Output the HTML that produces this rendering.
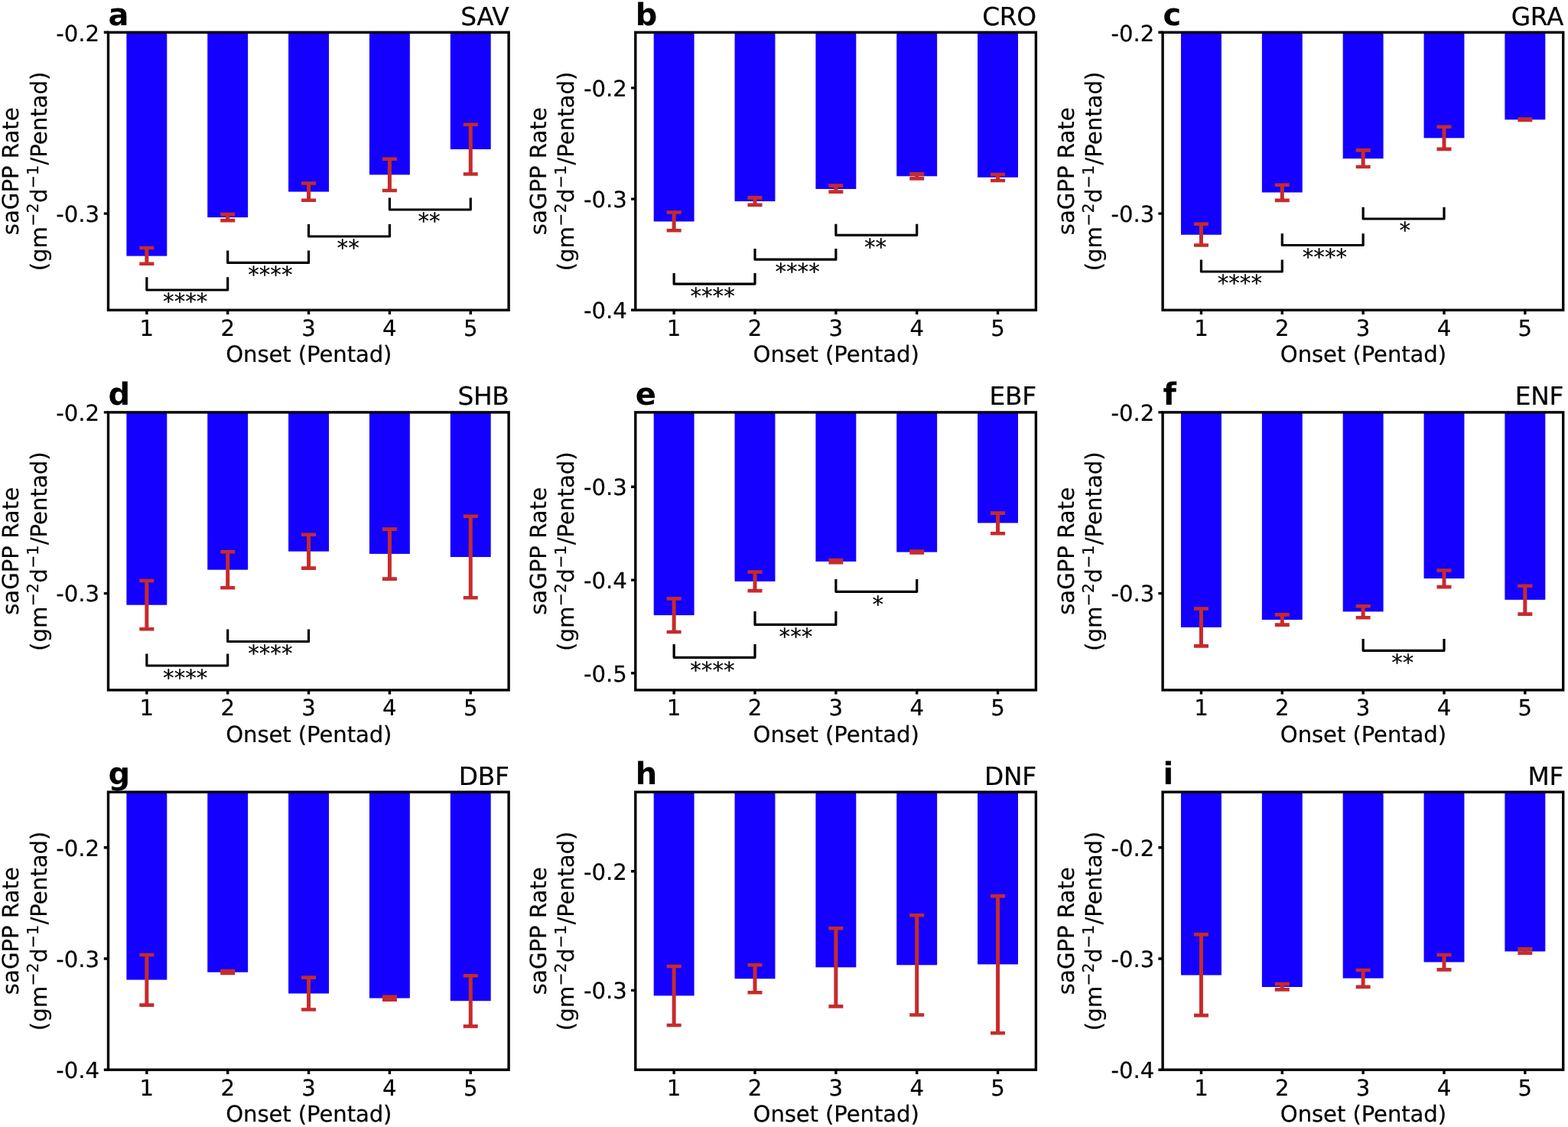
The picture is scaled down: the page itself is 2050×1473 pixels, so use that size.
<!DOCTYPE html>
<html lang="en"><head><meta charset="utf-8"><title>saGPP Rate by Onset (Pentad)</title>
<style>
html,body{margin:0;padding:0;background:#fff;}
body{width:2050px;height:1473px;overflow:hidden;}
svg{display:block;}
text{font-family:"DejaVu Sans","Liberation Sans",sans-serif;fill:#000;stroke:#000;stroke-width:0.2px;stroke-linejoin:round;text-rendering:geometricPrecision;}
.t{font-size:29.17px;}
.b{font-size:40px;font-weight:bold;stroke:none;}
.ti{font-size:32.8px;letter-spacing:-0.3px;}
.bar{fill:#1400ff;}
.e{stroke:#c62b2b;stroke-width:5;fill:none;}
.c{stroke:#c62b2b;stroke-width:4.6;fill:none;}
.k{stroke:#000;stroke-width:3.4;fill:none;}
.br{stroke:#000;stroke-width:3.2;fill:none;stroke-linejoin:round;}
</style></head><body>
<svg width="2050" height="1473" viewBox="0 0 2050 1473">
<rect width="2050" height="1473" fill="#fff"/>
<g id="panel-a">
<rect class="bar" x="165.4" y="42.3" width="52.9" height="292.3"/>
<rect class="bar" x="271.25" y="42.3" width="52.9" height="241.8"/>
<rect class="bar" x="377.1" y="42.3" width="52.9" height="208.3"/>
<rect class="bar" x="482.95" y="42.3" width="52.9" height="186.1"/>
<rect class="bar" x="588.8" y="42.3" width="52.9" height="152.8"/>
<path class="e" d="M191.85 324V344.8"/>
<path class="c" d="M182.35 324H201.35M182.35 344.8H201.35"/>
<path class="e" d="M297.7 280.1V288.1"/>
<path class="c" d="M288.2 280.1H307.2M288.2 288.1H307.2"/>
<path class="e" d="M403.55 239.5V261.7"/>
<path class="c" d="M394.05 239.5H413.05M394.05 261.7H413.05"/>
<path class="e" d="M509.4 207.7V249"/>
<path class="c" d="M499.9 207.7H518.9M499.9 249H518.9"/>
<path class="e" d="M615.25 162.8V227.5"/>
<path class="c" d="M605.75 162.8H624.75M605.75 227.5H624.75"/>
<path class="br" d="M191.85 362.3V379H297.7V362.3"/>
<text class="t" x="242.27" y="404.4" text-anchor="middle">****</text>
<path class="br" d="M297.7 327.6V343.4H403.55V327.6"/>
<text class="t" x="353.32" y="368.8" text-anchor="middle">****</text>
<path class="br" d="M403.55 293V309H509.4V293"/>
<text class="t" x="455.17" y="334.4" text-anchor="middle">**</text>
<path class="br" d="M509.4 258.4V274H615.25V258.4"/>
<text class="t" x="561.03" y="299.4" text-anchor="middle">**</text>
<rect class="k" x="141.5" y="42.3" width="523.6" height="363"/>
<path class="k" d="M191.85 405.3v5.7M297.7 405.3v5.7M403.55 405.3v5.7M509.4 405.3v5.7M615.25 405.3v5.7M141.5 42.3h-5.7M141.5 279.15h-5.7"/>
<text class="t" x="191.85" y="438.6" text-anchor="middle">1</text>
<text class="t" x="297.7" y="438.6" text-anchor="middle">2</text>
<text class="t" x="403.55" y="438.6" text-anchor="middle">3</text>
<text class="t" x="509.4" y="438.6" text-anchor="middle">4</text>
<text class="t" x="615.25" y="438.6" text-anchor="middle">5</text>
<text class="t" x="130.1" y="53.7" text-anchor="end">-0.2</text>
<text class="t" x="130.1" y="289.95" text-anchor="end">-0.3</text>
<text class="t" x="403.8" y="472.9" text-anchor="middle" letter-spacing="-0.12">Onset (Pentad)</text>
<text class="t" transform="translate(23.9 223.8) rotate(-90)" text-anchor="middle">saGPP Rate</text>
<text class="t" transform="translate(60.5 224) rotate(-90)" text-anchor="middle">(gm<tspan font-size="20.5px" dy="-10.5" dx="0.3">−2</tspan><tspan dy="10.5" dx="0.4">d</tspan><tspan font-size="20.5px" dy="-10.5" dx="0.3">−1</tspan><tspan dy="10.5" dx="0.4">/Pentad)</tspan></text>
<text class="b" x="141.5" y="32.7">a</text>
<text class="ti" x="665.5" y="33" text-anchor="end">SAV</text>
</g>
<g id="panel-b">
<rect class="bar" x="854.7" y="42.3" width="52.9" height="247.2"/>
<rect class="bar" x="960.55" y="42.3" width="52.9" height="220.8"/>
<rect class="bar" x="1066.4" y="42.3" width="52.9" height="204.7"/>
<rect class="bar" x="1172.25" y="42.3" width="52.9" height="188"/>
<rect class="bar" x="1278.1" y="42.3" width="52.9" height="189.5"/>
<path class="e" d="M881.15 277.5V301.3"/>
<path class="c" d="M871.65 277.5H890.65M871.65 301.3H890.65"/>
<path class="e" d="M987 258.4V267.9"/>
<path class="c" d="M977.5 258.4H996.5M977.5 267.9H996.5"/>
<path class="e" d="M1092.85 242.6V250.6"/>
<path class="c" d="M1083.35 242.6H1102.35M1083.35 250.6H1102.35"/>
<path class="e" d="M1198.7 227.4V233.4"/>
<path class="c" d="M1189.2 227.4H1208.2M1189.2 233.4H1208.2"/>
<path class="e" d="M1304.55 228V236"/>
<path class="c" d="M1295.05 228H1314.05M1295.05 236H1314.05"/>
<path class="br" d="M881.15 357.1V371.1H987V357.1"/>
<text class="t" x="931.58" y="396.5" text-anchor="middle">****</text>
<path class="br" d="M987 324.9V339.2H1092.85V324.9"/>
<text class="t" x="1042.62" y="364.6" text-anchor="middle">****</text>
<path class="br" d="M1092.85 292.7V307.3H1198.7V292.7"/>
<text class="t" x="1144.47" y="332.7" text-anchor="middle">**</text>
<rect class="k" x="830.8" y="42.3" width="523.6" height="363"/>
<path class="k" d="M881.15 405.3v5.7M987 405.3v5.7M1092.85 405.3v5.7M1198.7 405.3v5.7M1304.55 405.3v5.7M830.8 114.9h-5.7M830.8 260.1h-5.7M830.8 405.3h-5.7"/>
<text class="t" x="881.15" y="438.6" text-anchor="middle">1</text>
<text class="t" x="987" y="438.6" text-anchor="middle">2</text>
<text class="t" x="1092.85" y="438.6" text-anchor="middle">3</text>
<text class="t" x="1198.7" y="438.6" text-anchor="middle">4</text>
<text class="t" x="1304.55" y="438.6" text-anchor="middle">5</text>
<text class="t" x="819.9" y="125.7" text-anchor="end">-0.2</text>
<text class="t" x="819.9" y="270.9" text-anchor="end">-0.3</text>
<text class="t" x="819.9" y="416.1" text-anchor="end">-0.4</text>
<text class="t" x="1093.1" y="472.9" text-anchor="middle" letter-spacing="-0.12">Onset (Pentad)</text>
<text class="t" transform="translate(713.7 223.8) rotate(-90)" text-anchor="middle">saGPP Rate</text>
<text class="t" transform="translate(750.3 224) rotate(-90)" text-anchor="middle">(gm<tspan font-size="20.5px" dy="-10.5" dx="0.3">−2</tspan><tspan dy="10.5" dx="0.4">d</tspan><tspan font-size="20.5px" dy="-10.5" dx="0.3">−1</tspan><tspan dy="10.5" dx="0.4">/Pentad)</tspan></text>
<text class="b" x="830.8" y="32.7">b</text>
<text class="ti" x="1354.8" y="33" text-anchor="end">CRO</text>
</g>
<g id="panel-c">
<rect class="bar" x="1544" y="42.3" width="52.9" height="264.5"/>
<rect class="bar" x="1649.85" y="42.3" width="52.9" height="209.2"/>
<rect class="bar" x="1755.7" y="42.3" width="52.9" height="165"/>
<rect class="bar" x="1861.55" y="42.3" width="52.9" height="138.1"/>
<rect class="bar" x="1967.4" y="42.3" width="52.9" height="114.1"/>
<path class="e" d="M1570.45 292.7V320.5"/>
<path class="c" d="M1560.95 292.7H1579.95M1560.95 320.5H1579.95"/>
<path class="e" d="M1676.3 241.7V261.9"/>
<path class="c" d="M1666.8 241.7H1685.8M1666.8 261.9H1685.8"/>
<path class="e" d="M1782.15 196.4V218"/>
<path class="c" d="M1772.65 196.4H1791.65M1772.65 218H1791.65"/>
<path class="e" d="M1888 165.8V194.9"/>
<path class="c" d="M1878.5 165.8H1897.5M1878.5 194.9H1897.5"/>
<path class="e" d="M1993.85 155.45V156.95"/>
<path class="c" d="M1984.35 155.45H2003.35M1984.35 156.95H2003.35"/>
<path class="br" d="M1570.45 339.6V355H1676.3V339.6"/>
<text class="t" x="1620.87" y="380.4" text-anchor="middle">****</text>
<path class="br" d="M1676.3 305.3V320.5H1782.15V305.3"/>
<text class="t" x="1731.92" y="345.9" text-anchor="middle">****</text>
<path class="br" d="M1782.15 270.7V286H1888V270.7"/>
<text class="t" x="1836.77" y="310.7" text-anchor="middle">*</text>
<rect class="k" x="1520.1" y="42.3" width="523.6" height="363"/>
<path class="k" d="M1570.45 405.3v5.7M1676.3 405.3v5.7M1782.15 405.3v5.7M1888 405.3v5.7M1993.85 405.3v5.7M1520.1 42.3h-5.7M1520.1 279.15h-5.7"/>
<text class="t" x="1570.45" y="438.6" text-anchor="middle">1</text>
<text class="t" x="1676.3" y="438.6" text-anchor="middle">2</text>
<text class="t" x="1782.15" y="438.6" text-anchor="middle">3</text>
<text class="t" x="1888" y="438.6" text-anchor="middle">4</text>
<text class="t" x="1993.85" y="438.6" text-anchor="middle">5</text>
<text class="t" x="1509.3" y="53.7" text-anchor="end">-0.2</text>
<text class="t" x="1509.3" y="289.95" text-anchor="end">-0.3</text>
<text class="t" x="1782.4" y="472.9" text-anchor="middle" letter-spacing="-0.12">Onset (Pentad)</text>
<text class="t" transform="translate(1403.6 223.8) rotate(-90)" text-anchor="middle">saGPP Rate</text>
<text class="t" transform="translate(1440.2 224) rotate(-90)" text-anchor="middle">(gm<tspan font-size="20.5px" dy="-10.5" dx="0.3">−2</tspan><tspan dy="10.5" dx="0.4">d</tspan><tspan font-size="20.5px" dy="-10.5" dx="0.3">−1</tspan><tspan dy="10.5" dx="0.4">/Pentad)</tspan></text>
<text class="b" x="1520.6" y="32.7">c</text>
<text class="ti" x="2044.1" y="33" text-anchor="end">GRA</text>
</g>
<g id="panel-d">
<rect class="bar" x="165.4" y="538.9" width="52.9" height="251.8"/>
<rect class="bar" x="271.25" y="538.9" width="52.9" height="205.8"/>
<rect class="bar" x="377.1" y="538.9" width="52.9" height="181.8"/>
<rect class="bar" x="482.95" y="538.9" width="52.9" height="185"/>
<rect class="bar" x="588.8" y="538.9" width="52.9" height="189.1"/>
<path class="e" d="M191.85 759V822.2"/>
<path class="c" d="M182.35 759H201.35M182.35 822.2H201.35"/>
<path class="e" d="M297.7 721.2V768.3"/>
<path class="c" d="M288.2 721.2H307.2M288.2 768.3H307.2"/>
<path class="e" d="M403.55 698.7V742.6"/>
<path class="c" d="M394.05 698.7H413.05M394.05 742.6H413.05"/>
<path class="e" d="M509.4 691.6V756.6"/>
<path class="c" d="M499.9 691.6H518.9M499.9 756.6H518.9"/>
<path class="e" d="M615.25 674.7V781.2"/>
<path class="c" d="M605.75 674.7H624.75M605.75 781.2H624.75"/>
<path class="br" d="M191.85 854.5V870H297.7V854.5"/>
<text class="t" x="242.27" y="896.4" text-anchor="middle">****</text>
<path class="br" d="M297.7 822.6V838.5H403.55V822.6"/>
<text class="t" x="353.32" y="864.2" text-anchor="middle">****</text>
<rect class="k" x="141.5" y="538.9" width="523.6" height="363"/>
<path class="k" d="M191.85 901.9v5.7M297.7 901.9v5.7M403.55 901.9v5.7M509.4 901.9v5.7M615.25 901.9v5.7M141.5 538.9h-5.7M141.5 775.6h-5.7"/>
<text class="t" x="191.85" y="935.2" text-anchor="middle">1</text>
<text class="t" x="297.7" y="935.2" text-anchor="middle">2</text>
<text class="t" x="403.55" y="935.2" text-anchor="middle">3</text>
<text class="t" x="509.4" y="935.2" text-anchor="middle">4</text>
<text class="t" x="615.25" y="935.2" text-anchor="middle">5</text>
<text class="t" x="130.1" y="549.6" text-anchor="end">-0.2</text>
<text class="t" x="130.1" y="786.4" text-anchor="end">-0.3</text>
<text class="t" x="403.8" y="969.5" text-anchor="middle" letter-spacing="-0.12">Onset (Pentad)</text>
<text class="t" transform="translate(23.9 720.4) rotate(-90)" text-anchor="middle">saGPP Rate</text>
<text class="t" transform="translate(60.5 720.6) rotate(-90)" text-anchor="middle">(gm<tspan font-size="20.5px" dy="-10.5" dx="0.3">−2</tspan><tspan dy="10.5" dx="0.4">d</tspan><tspan font-size="20.5px" dy="-10.5" dx="0.3">−1</tspan><tspan dy="10.5" dx="0.4">/Pentad)</tspan></text>
<text class="b" x="141.5" y="528.6">d</text>
<text class="ti" x="665.5" y="528.9" text-anchor="end">SHB</text>
</g>
<g id="panel-e">
<rect class="bar" x="854.7" y="538.9" width="52.9" height="265.2"/>
<rect class="bar" x="960.55" y="538.9" width="52.9" height="221"/>
<rect class="bar" x="1066.4" y="538.9" width="52.9" height="195"/>
<rect class="bar" x="1172.25" y="538.9" width="52.9" height="182.7"/>
<rect class="bar" x="1278.1" y="538.9" width="52.9" height="144.6"/>
<path class="e" d="M881.15 782.4V826"/>
<path class="c" d="M871.65 782.4H890.65M871.65 826H890.65"/>
<path class="e" d="M987 747.5V772.1"/>
<path class="c" d="M977.5 747.5H996.5M977.5 772.1H996.5"/>
<path class="e" d="M1092.85 732V735.2"/>
<path class="c" d="M1083.35 732H1102.35M1083.35 735.2H1102.35"/>
<path class="e" d="M1198.7 720.6V722.4"/>
<path class="c" d="M1189.2 720.6H1208.2M1189.2 722.4H1208.2"/>
<path class="e" d="M1304.55 670.6V697.2"/>
<path class="c" d="M1295.05 670.6H1314.05M1295.05 697.2H1314.05"/>
<path class="br" d="M881.15 842V859.3H987V842"/>
<text class="t" x="931.38" y="885.7" text-anchor="middle">****</text>
<path class="br" d="M987 799V816.4H1092.85V799"/>
<text class="t" x="1040.42" y="842.1" text-anchor="middle">***</text>
<path class="br" d="M1092.85 757V773.3H1198.7V757"/>
<text class="t" x="1147.77" y="800.2" text-anchor="middle">*</text>
<rect class="k" x="830.8" y="538.9" width="523.6" height="363"/>
<path class="k" d="M881.15 901.9v5.7M987 901.9v5.7M1092.85 901.9v5.7M1198.7 901.9v5.7M1304.55 901.9v5.7M830.8 636.25h-5.7M830.8 758.15h-5.7M830.8 879.75h-5.7"/>
<text class="t" x="881.15" y="935.2" text-anchor="middle">1</text>
<text class="t" x="987" y="935.2" text-anchor="middle">2</text>
<text class="t" x="1092.85" y="935.2" text-anchor="middle">3</text>
<text class="t" x="1198.7" y="935.2" text-anchor="middle">4</text>
<text class="t" x="1304.55" y="935.2" text-anchor="middle">5</text>
<text class="t" x="819.9" y="646.75" text-anchor="end">-0.3</text>
<text class="t" x="819.9" y="768.95" text-anchor="end">-0.4</text>
<text class="t" x="819.9" y="890.55" text-anchor="end">-0.5</text>
<text class="t" x="1093.1" y="969.5" text-anchor="middle" letter-spacing="-0.12">Onset (Pentad)</text>
<text class="t" transform="translate(713.7 720.4) rotate(-90)" text-anchor="middle">saGPP Rate</text>
<text class="t" transform="translate(750.3 720.6) rotate(-90)" text-anchor="middle">(gm<tspan font-size="20.5px" dy="-10.5" dx="0.3">−2</tspan><tspan dy="10.5" dx="0.4">d</tspan><tspan font-size="20.5px" dy="-10.5" dx="0.3">−1</tspan><tspan dy="10.5" dx="0.4">/Pentad)</tspan></text>
<text class="b" x="830.8" y="528.6">e</text>
<text class="ti" x="1354.8" y="528.9" text-anchor="end">EBF</text>
</g>
<g id="panel-f">
<rect class="bar" x="1544" y="538.9" width="52.9" height="281"/>
<rect class="bar" x="1649.85" y="538.9" width="52.9" height="271.1"/>
<rect class="bar" x="1755.7" y="538.9" width="52.9" height="260.5"/>
<rect class="bar" x="1861.55" y="538.9" width="52.9" height="217.2"/>
<rect class="bar" x="1967.4" y="538.9" width="52.9" height="245"/>
<path class="e" d="M1570.45 795.5V844.4"/>
<path class="c" d="M1560.95 795.5H1579.95M1560.95 844.4H1579.95"/>
<path class="e" d="M1676.3 803.4V816.6"/>
<path class="c" d="M1666.8 803.4H1685.8M1666.8 816.6H1685.8"/>
<path class="e" d="M1782.15 792.3V807.2"/>
<path class="c" d="M1772.65 792.3H1791.65M1772.65 807.2H1791.65"/>
<path class="e" d="M1888 745.5V767.1"/>
<path class="c" d="M1878.5 745.5H1897.5M1878.5 767.1H1897.5"/>
<path class="e" d="M1993.85 765.7V802.6"/>
<path class="c" d="M1984.35 765.7H2003.35M1984.35 802.6H2003.35"/>
<path class="br" d="M1782.15 835V850.3H1888V835"/>
<text class="t" x="1833.77" y="875.7" text-anchor="middle">**</text>
<rect class="k" x="1520.1" y="538.9" width="523.6" height="363"/>
<path class="k" d="M1570.45 901.9v5.7M1676.3 901.9v5.7M1782.15 901.9v5.7M1888 901.9v5.7M1993.85 901.9v5.7M1520.1 538.9h-5.7M1520.1 775.6h-5.7"/>
<text class="t" x="1570.45" y="935.2" text-anchor="middle">1</text>
<text class="t" x="1676.3" y="935.2" text-anchor="middle">2</text>
<text class="t" x="1782.15" y="935.2" text-anchor="middle">3</text>
<text class="t" x="1888" y="935.2" text-anchor="middle">4</text>
<text class="t" x="1993.85" y="935.2" text-anchor="middle">5</text>
<text class="t" x="1509.3" y="549.6" text-anchor="end">-0.2</text>
<text class="t" x="1509.3" y="786.4" text-anchor="end">-0.3</text>
<text class="t" x="1782.4" y="969.5" text-anchor="middle" letter-spacing="-0.12">Onset (Pentad)</text>
<text class="t" transform="translate(1403.6 720.4) rotate(-90)" text-anchor="middle">saGPP Rate</text>
<text class="t" transform="translate(1440.2 720.6) rotate(-90)" text-anchor="middle">(gm<tspan font-size="20.5px" dy="-10.5" dx="0.3">−2</tspan><tspan dy="10.5" dx="0.4">d</tspan><tspan font-size="20.5px" dy="-10.5" dx="0.3">−1</tspan><tspan dy="10.5" dx="0.4">/Pentad)</tspan></text>
<text class="b" x="1520.6" y="528.6">f</text>
<text class="ti" x="2044.1" y="528.9" text-anchor="end">ENF</text>
</g>
<g id="panel-g">
<rect class="bar" x="165.4" y="1035.2" width="52.9" height="245.4"/>
<rect class="bar" x="271.25" y="1035.2" width="52.9" height="235.5"/>
<rect class="bar" x="377.1" y="1035.2" width="52.9" height="263.3"/>
<rect class="bar" x="482.95" y="1035.2" width="52.9" height="269.4"/>
<rect class="bar" x="588.8" y="1035.2" width="52.9" height="273"/>
<path class="e" d="M191.85 1248V1313.6"/>
<path class="c" d="M182.35 1248H201.35M182.35 1313.6H201.35"/>
<path class="e" d="M297.7 1269.1V1272"/>
<path class="c" d="M288.2 1269.1H307.2M288.2 1272H307.2"/>
<path class="e" d="M403.55 1277.6V1319.5"/>
<path class="c" d="M394.05 1277.6H413.05M394.05 1319.5H413.05"/>
<path class="e" d="M509.4 1302.8V1306.6"/>
<path class="c" d="M499.9 1302.8H518.9M499.9 1306.6H518.9"/>
<path class="e" d="M615.25 1275.3V1341.4"/>
<path class="c" d="M605.75 1275.3H624.75M605.75 1341.4H624.75"/>
<rect class="k" x="141.5" y="1035.2" width="523.6" height="363"/>
<path class="k" d="M191.85 1398.2v5.7M297.7 1398.2v5.7M403.55 1398.2v5.7M509.4 1398.2v5.7M615.25 1398.2v5.7M141.5 1107.8h-5.7M141.5 1253h-5.7M141.5 1398.2h-5.7"/>
<text class="t" x="191.85" y="1431.5" text-anchor="middle">1</text>
<text class="t" x="297.7" y="1431.5" text-anchor="middle">2</text>
<text class="t" x="403.55" y="1431.5" text-anchor="middle">3</text>
<text class="t" x="509.4" y="1431.5" text-anchor="middle">4</text>
<text class="t" x="615.25" y="1431.5" text-anchor="middle">5</text>
<text class="t" x="130.1" y="1118.6" text-anchor="end">-0.2</text>
<text class="t" x="130.1" y="1263.8" text-anchor="end">-0.3</text>
<text class="t" x="130.1" y="1409" text-anchor="end">-0.4</text>
<text class="t" x="403.8" y="1465.8" text-anchor="middle" letter-spacing="-0.12">Onset (Pentad)</text>
<text class="t" transform="translate(23.9 1216.7) rotate(-90)" text-anchor="middle">saGPP Rate</text>
<text class="t" transform="translate(60.5 1216.9) rotate(-90)" text-anchor="middle">(gm<tspan font-size="20.5px" dy="-10.5" dx="0.3">−2</tspan><tspan dy="10.5" dx="0.4">d</tspan><tspan font-size="20.5px" dy="-10.5" dx="0.3">−1</tspan><tspan dy="10.5" dx="0.4">/Pentad)</tspan></text>
<text class="b" x="141.5" y="1025.2">g</text>
<text class="ti" x="665.5" y="1025.7" text-anchor="end">DBF</text>
</g>
<g id="panel-h">
<rect class="bar" x="854.7" y="1035.2" width="52.9" height="266.2"/>
<rect class="bar" x="960.55" y="1035.2" width="52.9" height="244"/>
<rect class="bar" x="1066.4" y="1035.2" width="52.9" height="229.1"/>
<rect class="bar" x="1172.25" y="1035.2" width="52.9" height="226.1"/>
<rect class="bar" x="1278.1" y="1035.2" width="52.9" height="225.2"/>
<path class="e" d="M881.15 1263V1340"/>
<path class="c" d="M871.65 1263H890.65M871.65 1340H890.65"/>
<path class="e" d="M987 1261.2V1297.2"/>
<path class="c" d="M977.5 1261.2H996.5M977.5 1297.2H996.5"/>
<path class="e" d="M1092.85 1213.2V1315.4"/>
<path class="c" d="M1083.35 1213.2H1102.35M1083.35 1315.4H1102.35"/>
<path class="e" d="M1198.7 1196.2V1326.5"/>
<path class="c" d="M1189.2 1196.2H1208.2M1189.2 1326.5H1208.2"/>
<path class="e" d="M1304.55 1171.1V1350.2"/>
<path class="c" d="M1295.05 1171.1H1314.05M1295.05 1350.2H1314.05"/>
<rect class="k" x="830.8" y="1035.2" width="523.6" height="363"/>
<path class="k" d="M881.15 1398.2v5.7M987 1398.2v5.7M1092.85 1398.2v5.7M1198.7 1398.2v5.7M1304.55 1398.2v5.7M830.8 1138.75h-5.7M830.8 1294.35h-5.7"/>
<text class="t" x="881.15" y="1431.5" text-anchor="middle">1</text>
<text class="t" x="987" y="1431.5" text-anchor="middle">2</text>
<text class="t" x="1092.85" y="1431.5" text-anchor="middle">3</text>
<text class="t" x="1198.7" y="1431.5" text-anchor="middle">4</text>
<text class="t" x="1304.55" y="1431.5" text-anchor="middle">5</text>
<text class="t" x="819.9" y="1149.55" text-anchor="end">-0.2</text>
<text class="t" x="819.9" y="1305.15" text-anchor="end">-0.3</text>
<text class="t" x="1093.1" y="1465.8" text-anchor="middle" letter-spacing="-0.12">Onset (Pentad)</text>
<text class="t" transform="translate(713.7 1216.7) rotate(-90)" text-anchor="middle">saGPP Rate</text>
<text class="t" transform="translate(750.3 1216.9) rotate(-90)" text-anchor="middle">(gm<tspan font-size="20.5px" dy="-10.5" dx="0.3">−2</tspan><tspan dy="10.5" dx="0.4">d</tspan><tspan font-size="20.5px" dy="-10.5" dx="0.3">−1</tspan><tspan dy="10.5" dx="0.4">/Pentad)</tspan></text>
<text class="b" x="830.8" y="1025.2">h</text>
<text class="ti" x="1354.8" y="1025.7" text-anchor="end">DNF</text>
</g>
<g id="panel-i">
<rect class="bar" x="1544" y="1035.2" width="52.9" height="239.3"/>
<rect class="bar" x="1649.85" y="1035.2" width="52.9" height="254.8"/>
<rect class="bar" x="1755.7" y="1035.2" width="52.9" height="243.4"/>
<rect class="bar" x="1861.55" y="1035.2" width="52.9" height="222.3"/>
<rect class="bar" x="1967.4" y="1035.2" width="52.9" height="208.3"/>
<path class="e" d="M1570.45 1221.4V1327.1"/>
<path class="c" d="M1560.95 1221.4H1579.95M1560.95 1327.1H1579.95"/>
<path class="e" d="M1676.3 1286.1V1293.4"/>
<path class="c" d="M1666.8 1286.1H1685.8M1666.8 1293.4H1685.8"/>
<path class="e" d="M1782.15 1268V1289.9"/>
<path class="c" d="M1772.65 1268H1791.65M1772.65 1289.9H1791.65"/>
<path class="e" d="M1888 1248V1267.4"/>
<path class="c" d="M1878.5 1248H1897.5M1878.5 1267.4H1897.5"/>
<path class="e" d="M1993.85 1240.4V1245.7"/>
<path class="c" d="M1984.35 1240.4H2003.35M1984.35 1245.7H2003.35"/>
<rect class="k" x="1520.1" y="1035.2" width="523.6" height="363"/>
<path class="k" d="M1570.45 1398.2v5.7M1676.3 1398.2v5.7M1782.15 1398.2v5.7M1888 1398.2v5.7M1993.85 1398.2v5.7M1520.1 1107.8h-5.7M1520.1 1253h-5.7M1520.1 1398.2h-5.7"/>
<text class="t" x="1570.45" y="1431.5" text-anchor="middle">1</text>
<text class="t" x="1676.3" y="1431.5" text-anchor="middle">2</text>
<text class="t" x="1782.15" y="1431.5" text-anchor="middle">3</text>
<text class="t" x="1888" y="1431.5" text-anchor="middle">4</text>
<text class="t" x="1993.85" y="1431.5" text-anchor="middle">5</text>
<text class="t" x="1509.3" y="1118.6" text-anchor="end">-0.2</text>
<text class="t" x="1509.3" y="1263.8" text-anchor="end">-0.3</text>
<text class="t" x="1509.3" y="1409" text-anchor="end">-0.4</text>
<text class="t" x="1782.4" y="1465.8" text-anchor="middle" letter-spacing="-0.12">Onset (Pentad)</text>
<text class="t" transform="translate(1403.6 1216.7) rotate(-90)" text-anchor="middle">saGPP Rate</text>
<text class="t" transform="translate(1440.2 1216.9) rotate(-90)" text-anchor="middle">(gm<tspan font-size="20.5px" dy="-10.5" dx="0.3">−2</tspan><tspan dy="10.5" dx="0.4">d</tspan><tspan font-size="20.5px" dy="-10.5" dx="0.3">−1</tspan><tspan dy="10.5" dx="0.4">/Pentad)</tspan></text>
<text class="b" x="1520.6" y="1025.2">i</text>
<text class="ti" x="2044.1" y="1025.7" text-anchor="end">MF</text>
</g>
</svg>
</body></html>
